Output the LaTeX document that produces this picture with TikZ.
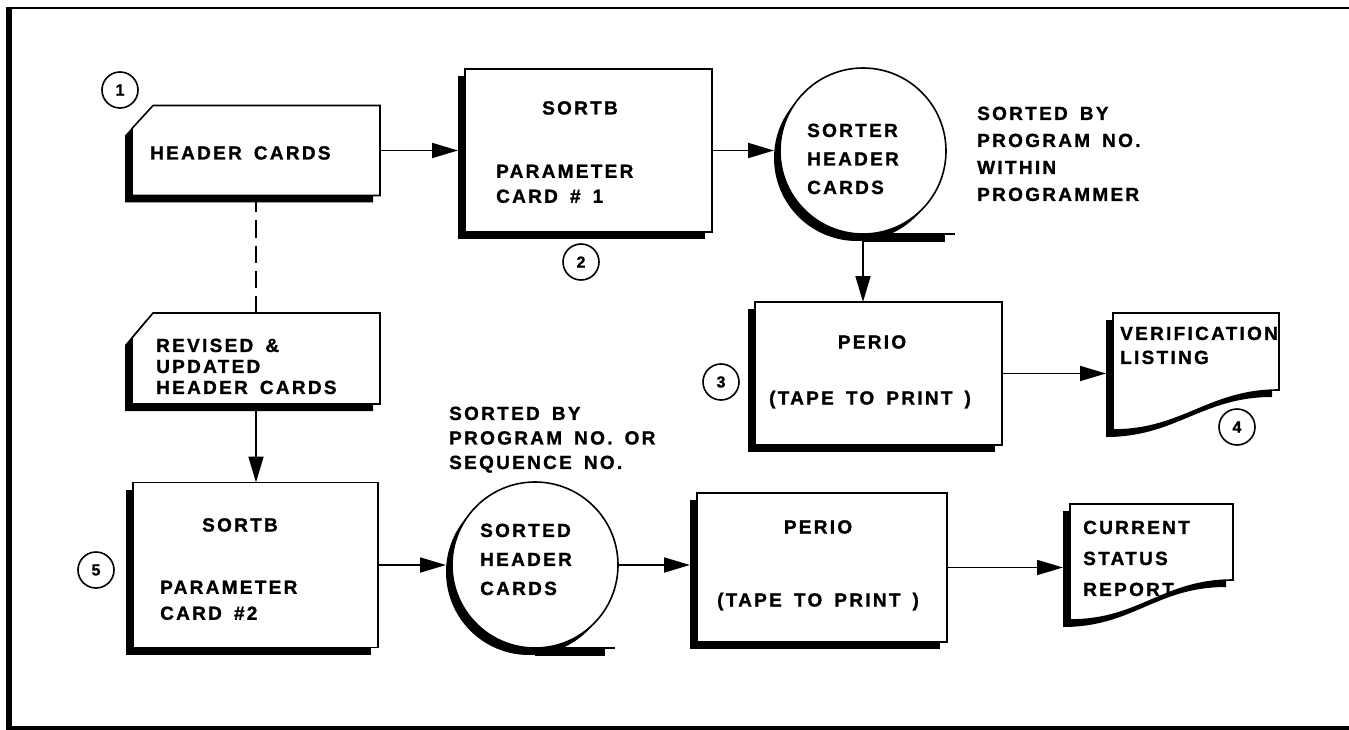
\documentclass[tikz,border=0pt]{standalone}
\usepackage{fontspec}
\newfontfamily\lettering{Liberation Sans}[LetterSpace=12, WordSpace=1.6, FakeBold=1.2]
\usetikzlibrary{arrows.meta,shadows}

\begin{document}
\begin{tikzpicture}[x=1pt,y=-1pt,
  outline/.style={draw, line width=1.6pt, fill=white, line join=miter},
  shade7/.style={drop shadow={shadow xshift=-7pt, shadow yshift=-7pt, opacity=1, fill=black}},
  shade6/.style={drop shadow={shadow xshift=-6pt, shadow yshift=-7pt, opacity=1, fill=black}},
  holder/.style={inner sep=0pt, outer sep=0pt},
  procbox/.style={outline, shade7, rectangle, inner sep=0pt, outer sep=0pt},
  tape/.style={outline, shade6, circle, inner sep=0pt, outer sep=0pt, minimum size=166pt},
  numc/.style={circle, draw, line width=1.6pt, minimum size=36pt, inner sep=0pt,
    font=\lettering\bfseries\fontsize{16}{16}\selectfont},
  txt/.style={inner sep=0pt, anchor=north west, align=left,
    font=\lettering\bfseries\fontsize{19}{#1}\selectfont},
  txt/.default=25,
  ctxt/.style={inner sep=0pt, anchor=base,
    font=\lettering\bfseries\fontsize{19}{22}\selectfont},
  flow/.style={-{Triangle[length=26pt,width=15pt]}, line width=1.8pt},
  link/.style={line width=1.4pt, dash pattern=on 17pt off 8pt},
]
\useasboundingbox (0,0) rectangle (1349,730);

% page frame (open on the right)
\draw[line width=6pt] (9,7) -- (9,730);
\draw[line width=1.5pt] (6,8) -- (1349,8);
\draw[line width=4pt] (6,728) -- (1349,728);

% ---- punched-card inputs
\node[holder, minimum width=248pt, minimum height=90pt] (card1) at (256,150.5) {};
\draw[outline, shade7] ([yshift=-23pt]card1.north west) -- ([xshift=21pt]card1.north west)
  -- (card1.north east) -- (card1.south east) -- (card1.south west) -- cycle;

\node[holder, minimum width=248pt, minimum height=91pt] (card2) at (256,358.5) {};
\draw[outline, shade7] ([yshift=-25pt]card2.north west) -- ([xshift=21pt]card2.north west)
  -- (card2.north east) -- (card2.south east) -- (card2.south west) -- cycle;

% ---- processing boxes
\node[procbox, minimum width=247pt, minimum height=163pt] (box2) at (588.5,150.5) {};
\node[procbox, minimum width=247pt, minimum height=143pt] (box3) at (878.5,373.5) {};
\node[procbox, minimum width=245pt, minimum height=165pt] (box5) at (255.5,565) {};
\node[procbox, minimum width=250pt, minimum height=149pt] (box6) at (822,567.5) {};

% ---- tapes (circle with a tangent tail)
\fill (863,234) rectangle (945,242);
\node[tape] (tape1) at (863,151) {};
\draw[line width=1.6pt] (tape1.south) -- ++(92,0);

\fill (535,648) rectangle (605,656);
\node[tape] (tape2) at (535,565) {};
\draw[line width=1.6pt] (tape2.south) -- ++(80,0);

% ---- printed documents
\node[holder, minimum width=166pt, minimum height=117pt] (doc4) at (1196,371.5) {};
\draw[outline, shade7] (doc4.north west) -- (doc4.north east) -- ([yshift=40pt]doc4.south east)
  .. controls +(-70pt,0pt) and +(70pt,0pt) .. (doc4.south west) -- cycle;

\node[holder, minimum width=163pt, minimum height=116pt] (doc7) at (1151.5,562) {};
\draw[outline, shade7] (doc7.north west) -- (doc7.north east) -- ([yshift=40pt]doc7.south east)
  .. controls +(-70pt,0pt) and +(70pt,0pt) .. (doc7.south west) -- cycle;

% ---- texts
\node[ctxt, anchor=base west] (t1) at (150,159.5) {HEADER CARDS};
\node[txt=21] (t2) at (156,338.5) {REVISED \&\\UPDATED\\HEADER CARDS};

\node[ctxt] (t3a) at (580,114.5) {SORTB};
\node[txt=25] (t3b) at (496,164.5) {PARAMETER\\CARD \# 1};

\node[txt=28.5] (t4) at (807,123.5) {SORTER\\HEADER\\CARDS};
\node[txt=27] (t5) at (977,106.5) {SORTED BY\\PROGRAM NO.\\WITHIN\\PROGRAMMER};

\node[ctxt] (t6a) at (872,348.5) {PERIO};
\node[ctxt] (t6b) at (870,404.5) {(TAPE TO PRINT )};

\node[txt=24] (t7) at (1120,326.5) {VERIFICATION\\LISTING};

\node[ctxt] (t8a) at (240,531.5) {SORTB};
\node[txt=26] (t8b) at (160,580.5) {PARAMETER\\CARD \#2};

\node[txt=24.5] (t9) at (449,406.5) {SORTED BY\\PROGRAM NO. OR\\SEQUENCE NO.};
\node[txt=29] (t10) at (480,523.5) {SORTED\\HEADER\\CARDS};

\node[ctxt] (t11a) at (818,533.5) {PERIO};
\node[ctxt] (t11b) at (818,606.5) {(TAPE TO PRINT )};

\node[txt=31] (t12) at (1083,520.5) {CURRENT\\STATUS\\REPORT};

% ---- step numbers
\node[numc] (n1) at (120,90) {1};
\node[numc] (n2) at (581,262) {2};
\node[numc] (n3) at (721,382) {3};
\node[numc] (n4) at (1237,427) {4};
\node[numc] (n5) at (96,570) {5};

% ---- connectors
\draw[flow, shorten >=7pt] (card1.east) -- (box2.west);
\draw[flow, shorten >=6pt] (box2.east) -- (box2.east -| tape1.west);
\draw[flow] (tape1.south) -- (tape1.south |- box3.north);
\draw[flow, shorten >=7pt] (box3.east) -- (box3.east -| doc4.west);
\draw[link] (card1.south) -- (card2.north);
\draw[flow] (card2.south) -- (card2.south |- box5.north);
\draw[flow, shorten >=6pt] (box5.east) -- (box5.east -| tape2.west);
\draw[flow, shorten >=7pt] (tape2.east) -- (tape2.east -| box6.west);
\draw[flow, shorten >=7pt] (box6.east) -- (box6.east -| doc7.west);
\end{tikzpicture}
\end{document}
